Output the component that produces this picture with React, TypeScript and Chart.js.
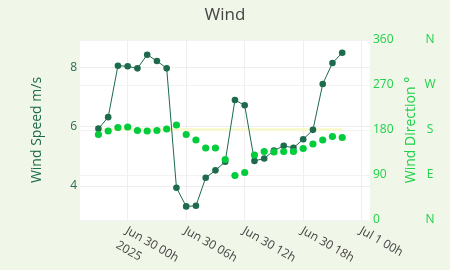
import React, { useEffect, useRef } from "react";
import { Chart, registerables } from "chart.js";

Chart.register(...registerables);

// hourly timestamps (UTC) of the observations
const times: string[] = [
  "2025-06-29T21:00Z", "2025-06-29T22:00Z", "2025-06-29T23:00Z",
  "2025-06-30T00:00Z", "2025-06-30T01:00Z", "2025-06-30T02:00Z", "2025-06-30T03:00Z",
  "2025-06-30T04:00Z", "2025-06-30T05:00Z", "2025-06-30T06:00Z", "2025-06-30T07:00Z",
  "2025-06-30T08:00Z", "2025-06-30T09:00Z", "2025-06-30T10:00Z", "2025-06-30T11:00Z",
  "2025-06-30T12:00Z", "2025-06-30T13:00Z", "2025-06-30T14:00Z", "2025-06-30T15:00Z",
  "2025-06-30T16:00Z", "2025-06-30T17:00Z", "2025-06-30T18:00Z", "2025-06-30T19:00Z",
  "2025-06-30T20:00Z", "2025-06-30T21:00Z", "2025-06-30T22:00Z",
];

const windSpeed: number[] = [
  5.94, 6.33, 8.07, 8.05, 7.98, 8.44, 8.23, 7.98, 3.94, 3.31, 3.33, 4.28, 4.53,
  4.82, 6.91, 6.73, 4.85, 4.93, 5.2, 5.36, 5.29, 5.58, 5.9, 7.45, 8.16, 8.51,
];

const windDirection: number[] = [
  171, 178, 185, 186, 179, 178, 179, 182, 190, 171, 160, 144, 144, 121, 89, 95,
  130, 137, 136, 137, 137, 143, 152, 160, 167, 165,
];

const refDirection = 181;

const xTickHours: number[] = [0, 6, 12, 18, 24];
const xTickLabels: string[][] = [
  ["Jun 30 00h", "2025"],
  ["Jun 30 06h"],
  ["Jun 30 12h"],
  ["Jun 30 18h"],
  ["Jul 1 00h"],
];
const speedTicks: number[] = [4, 6, 8];
const dirTicks: number[] = [0, 90, 180, 270, 360];
const compassTicks: number[] = [0, 90, 180, 270, 360];
const compassLabels: string[] = ["N", "E", "S", "W", "N"];

const ORIGIN = Date.parse("2025-06-30T00:00Z");
const toHours = (t: string) => (Date.parse(t) - ORIGIN) / 3600000;

const BG = "#f0f6e8";
const DARK = "#1d6a4c";
const GREEN = "#00cc3c";
const GREEN_TEXT = "#1ed24a";
const FONT = "'Open Sans', sans-serif";

export default function App() {
  const ref = useRef<HTMLCanvasElement>(null);

  useEffect(() => {
    document.body.style.margin = "0";
    const canvas = ref.current!;
    const xs = times.map(toHours);

    const bgPlugin = {
      id: "bg",
      beforeDraw(chart: any) {
        const { ctx, chartArea } = chart;
        ctx.save();
        ctx.fillStyle = BG;
        ctx.fillRect(0, 0, chart.width, chart.height);
        ctx.fillStyle = "#ffffff";
        ctx.fillRect(chartArea.left, chartArea.top, chartArea.right - chartArea.left, chartArea.bottom - chartArea.top);
        ctx.restore();
      },
      afterDraw(chart: any) {
        const { ctx, chartArea } = chart;
        const xScale = chart.scales.x;
        ctx.save();
        ctx.font = `12px ${FONT}`;
        ctx.fillStyle = "#444444";
        ctx.textAlign = "left";
        ctx.textBaseline = "top";
        xTickHours.forEach((v, i) => {
          const px = xScale.getPixelForValue(v);
          ctx.save();
          ctx.translate(px + 1.8, chartArea.bottom + 4.5);
          ctx.rotate(Math.PI / 6);
          xTickLabels[i].forEach((line, j) => {
            ctx.fillText(line, j === 0 ? 0 : -1, j * 17.5);
          });
          ctx.restore();
        });
        // right axis title
        const y2 = chart.scales.y2;
        ctx.save();
        ctx.translate(410.7, (y2.top + y2.bottom) / 2);
        ctx.rotate(-Math.PI / 2);
        ctx.font = `14px ${FONT}`;
        ctx.fillStyle = GREEN_TEXT;
        ctx.textAlign = "center";
        ctx.textBaseline = "middle";
        ctx.fillText("Wind Direction °", 0, 0);
        ctx.restore();
        ctx.restore();
      },
    };

    const chart = new Chart(canvas, {
      type: "scatter",
      data: {
        datasets: [
          {
            label: "ref",
            data: [
              { x: xs[0], y: refDirection },
              { x: xs[xs.length - 1], y: refDirection },
            ],
            yAxisID: "y2",
            showLine: true,
            borderColor: "#f8f8c8",
            borderWidth: 2.5,
            pointRadius: 0,
            order: 3,
          },
          {
            label: "Wind Speed",
            data: xs.map((x, i) => ({ x, y: windSpeed[i] })),
            yAxisID: "y",
            showLine: true,
            borderColor: DARK,
            borderWidth: 1,
            backgroundColor: DARK,
            pointBackgroundColor: DARK,
            pointBorderWidth: 0,
            pointRadius: 3.3,
            order: 2,
          },
          {
            label: "Wind Direction",
            data: xs.map((x, i) => ({ x, y: windDirection[i] })),
            yAxisID: "y2",
            showLine: false,
            backgroundColor: GREEN,
            pointBackgroundColor: GREEN,
            pointBorderWidth: 0,
            pointRadius: 3.6,
            order: 1,
          },
        ],
      },
      options: {
        animation: false,
        responsive: false,
        maintainAspectRatio: false,
        layout: { padding: 0 },
        plugins: {
          legend: { display: false },
          tooltip: { enabled: false },
          title: {
            display: true,
            text: "Wind",
            color: "#444444",
            font: { family: FONT, size: 17, weight: "normal" },
            padding: { top: 5, bottom: 14.6 },
          },
        },
        scales: {
          x: {
            type: "linear",
            min: -4.89,
            max: 24.85,
            afterBuildTicks: (s: any) => {
              s.ticks = xTickHours.map((v) => ({ value: v }));
            },
            afterFit: (s: any) => {
              s.height = 50;
            },
            ticks: { display: false },
            grid: { color: "#eeeeee", lineWidth: 1, drawTicks: false },
            border: { display: false },
          },
          y: {
            position: "left",
            min: 2.85,
            max: 8.94,
            afterBuildTicks: (s: any) => {
              s.ticks = speedTicks.map((v) => ({ value: v }));
            },
            afterFit: (s: any) => {
              s.width = 80;
            },
            ticks: {
              color: "#2a6a5a",
              font: { family: FONT, size: 12 },
              padding: 3,
            },
            title: {
              display: true,
              text: "Wind Speed m/s",
              color: DARK,
              font: { family: FONT, size: 14 },
              padding: { top: 28.6, bottom: 0 },
            },
            grid: { color: "#eeeeee", lineWidth: 1, drawTicks: false },
            border: { display: false },
          },
          y2: {
            position: "right",
            min: 0,
            max: 360,
            afterBuildTicks: (s: any) => {
              s.ticks = dirTicks.map((v) => ({ value: v }));
            },
            afterFit: (s: any) => {
              s.width = 50;
            },
            ticks: {
              color: GREEN_TEXT,
              font: { family: FONT, size: 12 },
              padding: 3,
            },
            grid: { color: "#f2f2f2", lineWidth: 1, drawTicks: false },
            border: { display: false },
          },
          y3: {
            position: "right",
            min: 0,
            max: 360,
            afterBuildTicks: (s: any) => {
              s.ticks = compassTicks.map((v) => ({ value: v }));
            },
            afterFit: (s: any) => {
              s.width = 30;
            },
            ticks: {
              color: GREEN_TEXT,
              font: { family: FONT, size: 12 },
              padding: 4.5,
              crossAlign: "center",
              callback: (_v: any, i: number) => compassLabels[i],
            },
            grid: { display: false, drawTicks: false },
            border: { display: false },
          },
        },
      },
      plugins: [bgPlugin],
    } as any);

    return () => chart.destroy();
  }, []);

  return <canvas ref={ref} width={450} height={270} style={{ display: "block", width: 450, height: 270 }} />;
}
